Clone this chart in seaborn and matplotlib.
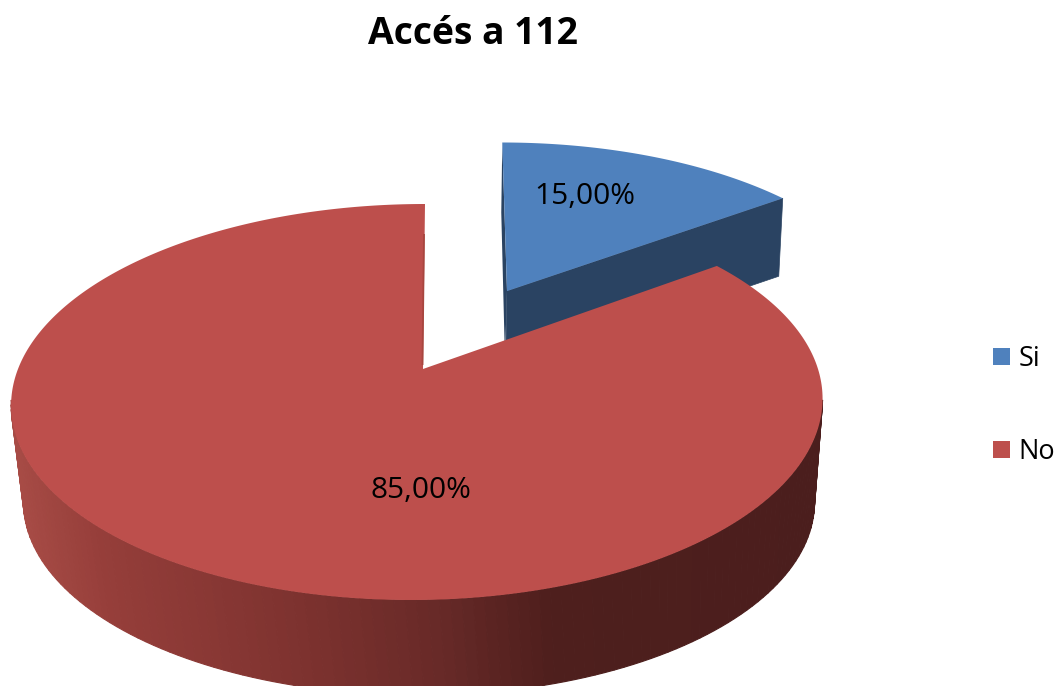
import numpy as np
import matplotlib
matplotlib.use("Agg")
import matplotlib.pyplot as plt
from matplotlib.patches import Patch
import seaborn as sns

title = "Accés a 112"
categories = ["Si", "No"]
values = [15.0, 85.0]
top_colors = ["#4F81BD", "#BD4F4C"]
side_blue = "#2A4362"

sns.set_theme(style="white")
plt.rcParams["font.family"] = ["Open Sans", "DejaVu Sans"]

fig = plt.figure(figsize=(10.61, 6.86), dpi=100)
ax = fig.add_axes([0, 0, 1, 1])
ax.set_xlim(0, 1061)
ax.set_ylim(686, 0)
ax.axis("off")

K, RX, RY = 1 / 6, 400.0, 192.5


def project(theta, cx, cy, sx=1.0, sy=1.0, shear=0.0):
    x, y = np.cos(theta), np.sin(theta)
    w = 1 + K * y
    return cx + sx * (RX * x / w + shear * y), cy - sy * RY * y / w


# slice angles follow the values, clockwise from 12 o'clock
start = np.pi / 2
si_end = start - 2 * np.pi * values[0] / sum(values)
no_end = si_end - 2 * np.pi * values[1] / sum(values)

# --- Si slice
si_apex = (507.0, 291.0)
si_par = dict(cx=si_apex[0], cy=si_apex[1], sx=0.945, sy=0.90, shear=-5.0)
si_depth = 78.0
t = np.linspace(start, si_end, 80)
sx_arc, sy_arc = project(t, **si_par)
ex, ey = sx_arc[-1], sy_arc[-1]
ax.fill([si_apex[0], ex, ex - 4, si_apex[0] - 1.5],
        [si_apex[1], ey, ey + si_depth, si_apex[1] + si_depth],
        color=side_blue, lw=0.5, zorder=1)
ax.fill([sx_arc[0], si_apex[0], si_apex[0] - 1.5, si_apex[0] - 2.5, sx_arc[0] - 1],
        [sy_arc[0], si_apex[1], si_apex[1] + 50, si_apex[1] + 50, sy_arc[0] + 70],
        color=side_blue, lw=0, zorder=1)
ax.fill(np.r_[si_apex[0], sx_arc], np.r_[si_apex[1], sy_arc],
        color=top_colors[0], lw=0, zorder=2)

# --- No slice: side wall
no_par = dict(cx=418.0, cy=369.0, shear=7.0)
wall_par = dict(cx=419.0, cy=470.0, sx=0.975, sy=0.975, shear=0.0)
wall_t = np.linspace(np.radians(189), np.radians(351), 120)
grad_x = [11, 100, 300, 430, 550, 830]
grad_r = [168, 150, 125, 105, 78, 75]
grad_g = [76, 62, 50, 42, 31, 30]
grad_b = [70, 58, 47, 40, 29, 29]
for a, b in zip(wall_t[:-1], wall_t[1:]):
    pair = np.array([a, b])
    xt, yt = project(pair, **no_par)
    xb, yb = project(pair, **wall_par)
    xm = xt.mean()
    c = (np.interp(xm, grad_x, grad_r) / 255,
         np.interp(xm, grad_x, grad_g) / 255,
         np.interp(xm, grad_x, grad_b) / 255)
    ax.fill([xt[0], xt[1], xb[1], xb[0]], [yt[0], yt[1], yb[1], yb[0]],
            facecolor=c, edgecolor=c, lw=0.8, zorder=3)

# --- No slice: top face
no_apex = (423.0, 369.0)
t = np.linspace(si_end, no_end, 400)
nx_arc, ny_arc = project(t, **no_par)
ax.fill(np.r_[no_apex[0], nx_arc], np.r_[no_apex[1], ny_arc],
        color=top_colors[1], lw=0, zorder=4)
ax.plot([nx_arc[-1] - 1, no_apex[0] - 0.5], [ny_arc[-1] + 30, no_apex[1] - 4],
        color="#A8463F", lw=1.3, solid_capstyle="butt", zorder=5)

# --- texts
ax.text(473, 34, title, ha="center", va="center", fontsize=26.8,
        fontweight="bold", color="black", zorder=6)
ax.text(585, 196, f"{values[0]:.2f}%".replace(".", ","), ha="center", va="center",
        fontsize=21.5, color="black", zorder=6)
ax.text(421, 490, f"{values[1]:.2f}%".replace(".", ","), ha="center", va="center",
        fontsize=21.5, color="black", zorder=6)

handles = [Patch(facecolor=c, edgecolor="none", label=l)
           for c, l in zip(top_colors, categories)]
leg = ax.legend(handles=handles, loc="upper left", bbox_to_anchor=(993, 345),
                bbox_transform=ax.transData, frameon=False, fontsize=19.5,
                labelcolor="black",
                borderpad=0, borderaxespad=0, handlelength=0.63, handleheight=0.63,
                handletextpad=0.3, labelspacing=2.4)
leg.set_zorder(6)

fig.savefig("out.png", dpi=100)
